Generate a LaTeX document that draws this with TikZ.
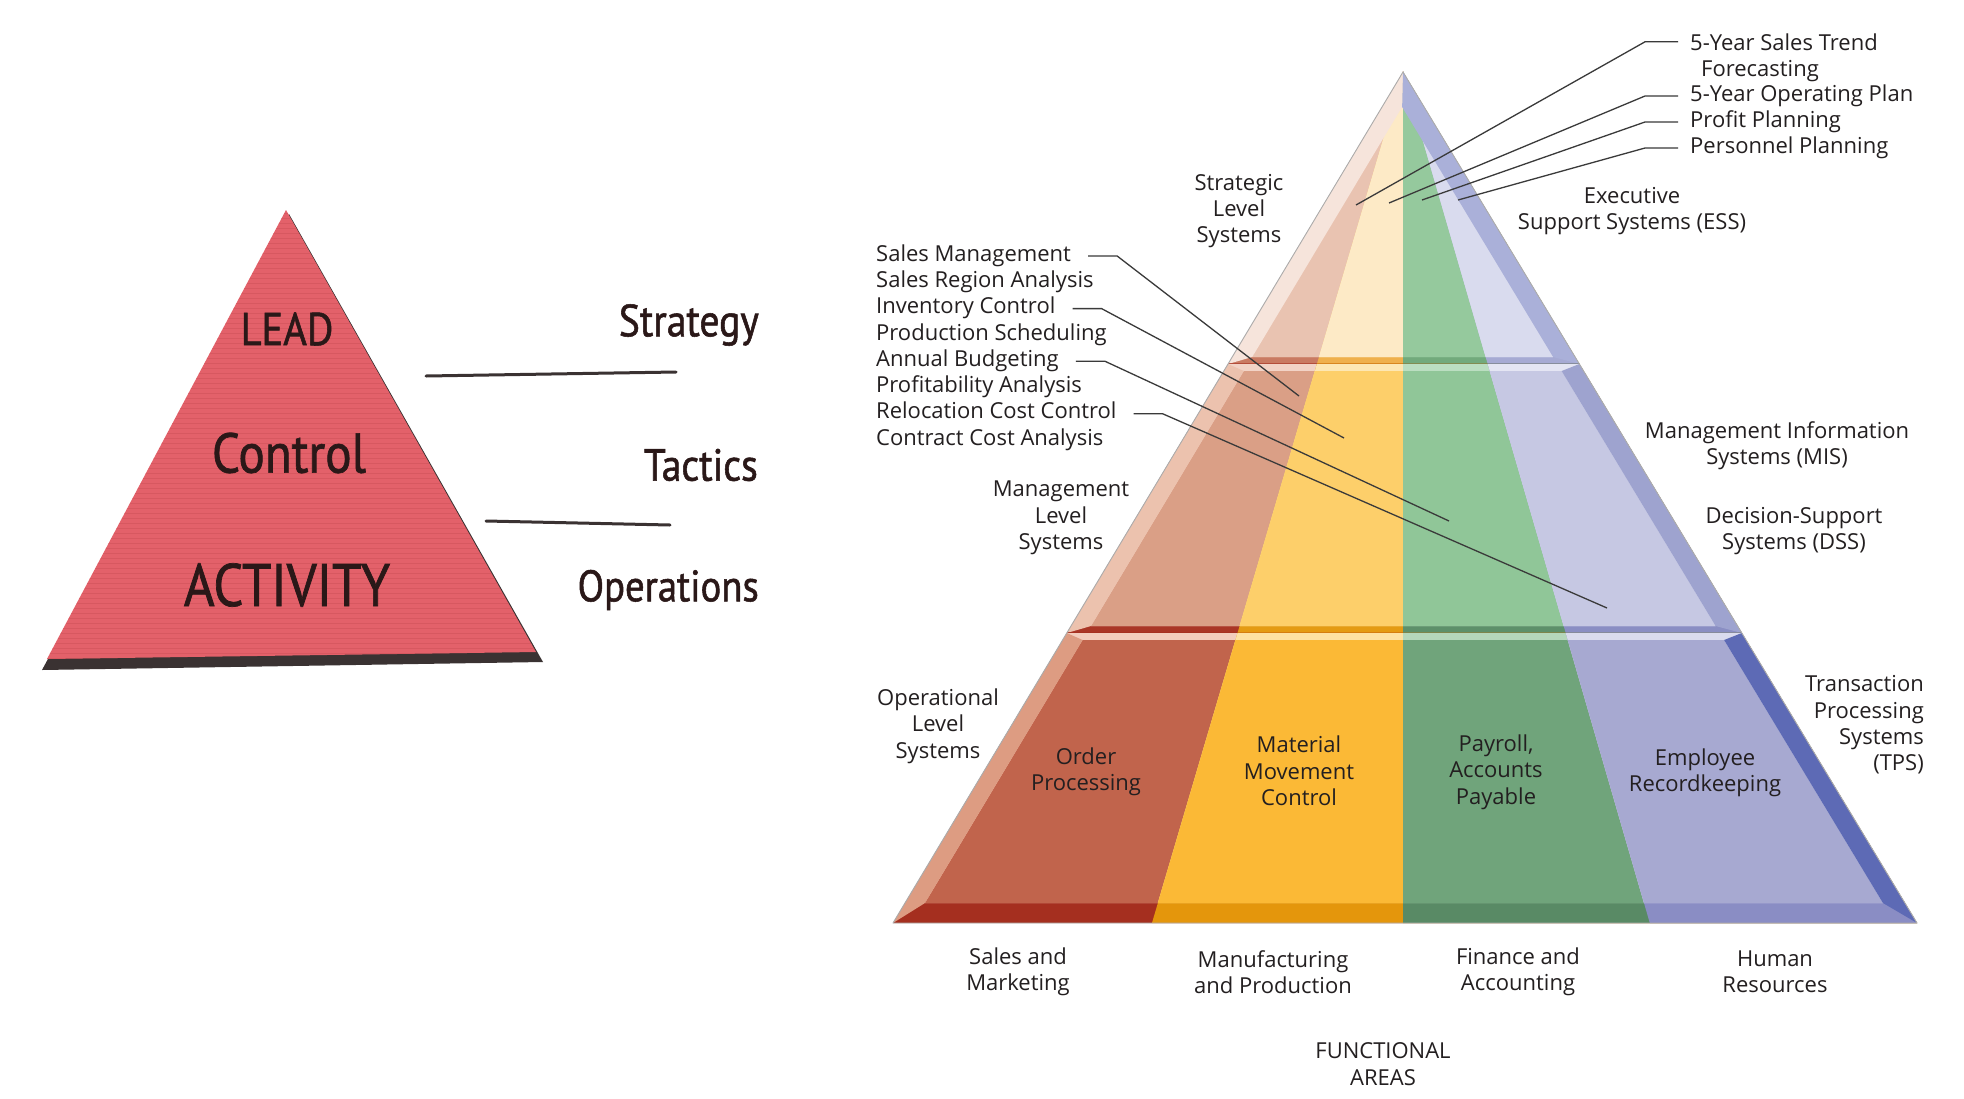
\documentclass[tikz,border=0pt]{standalone}
\usepackage{fontspec}
\setmainfont{Open Sans}
\newfontfamily\pyrfont[FakeStretch=0.88,FakeBold=1.2]{PT Sans}

% text and line colours
\definecolor{txt}{HTML}{231F20}
\definecolor{pyrtxt}{HTML}{2A1818}
\definecolor{ldr}{HTML}{3A3A3A}
\definecolor{redpyr}{HTML}{E3616A}
\definecolor{redtex}{HTML}{C94E55}
\definecolor{pyrshadow}{HTML}{3A3232}

% tier 1 (strategic)
\definecolor{R1t}{HTML}{E9C3B1}\definecolor{R1f}{HTML}{E9C3B1}\definecolor{R1b}{HTML}{C97A62}
\definecolor{Y1t}{HTML}{FDEAC6}\definecolor{Y1f}{HTML}{FDEAC6}\definecolor{Y1b}{HTML}{EFB04C}
\definecolor{G1t}{HTML}{95C99D}\definecolor{G1f}{HTML}{95C99D}\definecolor{G1b}{HTML}{72AA7C}
\definecolor{B1t}{HTML}{D9DBEE}\definecolor{B1f}{HTML}{D9DBEE}\definecolor{B1b}{HTML}{A6AAD3}
\definecolor{L1}{HTML}{F6E4DB}\definecolor{Q1}{HTML}{AAB0D9}
% tier 2 (management)
\definecolor{R2t}{HTML}{F2D3C6}\definecolor{R2f}{HTML}{DA9F86}\definecolor{R2b}{HTML}{AA3626}
\definecolor{Y2t}{HTML}{FDE7B3}\definecolor{Y2f}{HTML}{FDCF6A}\definecolor{Y2b}{HTML}{E49B13}
\definecolor{G2t}{HTML}{BBDEC1}\definecolor{G2f}{HTML}{90C698}\definecolor{G2b}{HTML}{5D906A}
\definecolor{B2t}{HTML}{E4E5F3}\definecolor{B2f}{HTML}{C6C8E3}\definecolor{B2b}{HTML}{8A8EC3}
\definecolor{L2}{HTML}{ECC2AE}\definecolor{Q2}{HTML}{9EA3CF}
% tier 3 (operational)
\definecolor{R3t}{HTML}{F3CDBD}\definecolor{R3f}{HTML}{C1644C}\definecolor{R3b}{HTML}{A52F1F}
\definecolor{Y3t}{HTML}{FEE2A3}\definecolor{Y3f}{HTML}{FBB936}\definecolor{Y3b}{HTML}{E4960C}
\definecolor{G3t}{HTML}{B5D7BB}\definecolor{G3f}{HTML}{70A47B}\definecolor{G3b}{HTML}{598A65}
\definecolor{B3t}{HTML}{DADBEE}\definecolor{B3f}{HTML}{A7A9D1}\definecolor{B3b}{HTML}{8A8DC4}
\definecolor{L3}{HTML}{DD9C82}\definecolor{Q3}{HTML}{5D6AB5}

% outer edges of the coloured pyramid
\newcommand\XL[1]{(1403-0.5993*((#1)-72))}
\newcommand\XR[1]{(1403+0.604*((#1)-72))}
% column regions (each drawn over the previous one)
\newcommand\clipR{}
\newcommand\clipY{\clip (1403,0) -- (1403,72) -- ({1403-0.295*928},1000) -- (2000,1000) -- (2000,0) -- cycle;}
\newcommand\clipG{\clip (1403,0) -- (1403,1000) -- (2000,1000) -- (2000,0) -- cycle;}
\newcommand\clipB{\clip (1403,0) -- (1403,72) -- ({1403+0.29*928},1000) -- (2000,1000) -- (2000,0) -- cycle;}

% one column of one tier: column, tier, outer top, inner top, inner bottom, outer bottom
\newcommand\tiercol[6]{%
  \begin{scope}
    \csname clip#1\endcsname
    \fill[#1#2b] ({\XL{#3-0.6}},{#3-0.6}) -- ({\XR{#3-0.6}},{#3-0.6}) -- ({\XR{#6}},{#6}) -- ({\XL{#6}},{#6}) -- cycle;
    \fill[#1#2t] ({\XL{#3}},{#3}) -- ({\XR{#3}},{#3}) -- ({\XR{#5}-22},{#5}) -- ({\XL{#5}+20},{#5}) -- cycle;
    \fill[#1#2f] ({\XL{#4}+20},{#4}) -- ({\XR{#4}-22},{#4}) -- ({\XR{#5}-22},{#5}) -- ({\XL{#5}+20},{#5}) -- cycle;
  \end{scope}}
% a whole tier with its side bevels
\newcommand\tier[5]{%
  \tiercol{R}{#1}{#2}{#3}{#4}{#5}%
  \tiercol{Y}{#1}{#2}{#3}{#4}{#5}%
  \tiercol{G}{#1}{#2}{#3}{#4}{#5}%
  \tiercol{B}{#1}{#2}{#3}{#4}{#5}%
  \fill[L#1] ({\XL{#2}},{#2}) -- ({\XL{#5}},{#5}) -- ({\XL{#4}+20},{#4}) -- ({\XL{#3}+20},{#3}) -- cycle;
  \fill[Q#1] ({\XR{#2}},{#2}) -- ({\XR{#5}},{#5}) -- ({\XR{#4}-22},{#4}) -- ({\XR{#3}-22},{#3}) -- cycle;
}

\begin{document}
\begin{tikzpicture}[x=1pt,y=-1pt,
  lbl/.style={font=\fontsize{22}{26.3}\selectfont, text=txt, inner sep=0pt,
              text height=21.6pt, text depth=5.3pt, anchor=west},
  blk/.style={font=\fontsize{22}{26.3}\selectfont, text=txt, inner sep=0pt, align=center, yshift=-3pt},
  pyrlbl/.style={font=\pyrfont\fontsize{#1}{#1}\selectfont, text=pyrtxt, inner sep=0pt},
  leader/.style={draw=ldr, line width=1.3pt},
  sepline/.style={draw=pyrshadow, line width=3pt, line cap=round}]

\useasboundingbox (0,0) rectangle (1964,1098);
\fill[white] (0,0) rectangle (1964,1098);

% ---------------- left pyramid ----------------
\fill[pyrshadow] (289,214) -- (42,670) -- (543,662) -- cycle;
\fill[redpyr] (286,210) -- (47,659) -- (536,652) -- cycle;
\begin{scope}
  \clip (286,210) -- (47,659) -- (536,652) -- cycle;
  \foreach \yy in {213,218,...,663}
    \draw[redtex, line width=1pt, opacity=0.45] (40,\yy) -- (545,\yy);
\end{scope}

\node[pyrlbl=46] (lead) at (287,329) {LEAD};
\node[pyrlbl=56] (control) at (289,453) {Control};
\node[pyrlbl=60] (activity) at (287,585) {ACTIVITY};

\node[pyrlbl=45, anchor=east] (strategy) at (759,325) {Strategy};
\node[pyrlbl=45, anchor=east] (tactics) at (758,465) {Tactics};
\node[pyrlbl=44, anchor=east] (operations) at (759,590) {Operations};

\coordinate (s1a) at (426,376); \coordinate (s1b) at (676,372);
\coordinate (s2a) at (486,521); \coordinate (s2b) at (670,525);
\draw[sepline] (s1a) -- (s1b);
\draw[sepline] (s2a) -- (s2b);

% ---------------- information systems pyramid ----------------
\tier{1}{72}{107}{357}{364}
\tier{2}{364}{371}{626}{633}
\tier{3}{633}{640}{903}{923}
\draw[gray!65, line width=0.9pt, line join=round] (1403,72) -- (893,923) -- (1917,923) -- cycle;

% level labels
\node[blk] (strat) at (1239,208) {Strategic\\Level\\Systems};
\node[blk] (mgmt) at (1061,515) {Management\\Level\\Systems};
\node[blk] (oper) at (938,723) {Operational\\Level\\Systems};

\node[blk] (ess) at (1632,208) {Executive\\Support Systems (ESS)};
\node[blk] (mis) at (1777,443) {Management Information\\Systems (MIS)};
\node[blk] (dss) at (1794,528) {Decision-Support\\Systems (DSS)};
\node[blk, align=right, anchor=east] (tps) at (1924,722) {Transaction\\Processing\\Systems\\(TPS)};

% operational systems inside the base
\node[blk] (order) at (1086,769) {Order\\Processing};
\node[blk] (material) at (1299,768) {Material\\Movement\\Control};
\node[blk] (payroll) at (1496,769) {Payroll,\\Accounts\\Payable};
\node[blk] (employee) at (1705,770) {Employee\\Recordkeeping};

% functional areas
\node[blk] (fa1) at (1018,969) {Sales and\\Marketing};
\node[blk] (fa2) at (1273,969) {Manufacturing\\and Production};
\node[blk] (fa3) at (1518,969) {Finance and\\Accounting};
\node[blk] (fa4) at (1775,969) {Human\\Resources};
\node[blk] (func) at (1383,1061) {FUNCTIONAL\\AREAS};

% management level applications
\node[lbl] (sm)  at (876,253)   {Sales Management};
\node[lbl] (sra) at (876,279.3) {Sales Region Analysis};
\node[lbl] (ic)  at (876,305.6) {Inventory Control};
\node[lbl] (ps)  at (876,331.9) {Production Scheduling};
\node[lbl] (ab)  at (876,358.2) {Annual Budgeting};
\node[lbl] (pa)  at (876,384.5) {Profitability Analysis};
\node[lbl] (rcc) at (876,410.8) {Relocation Cost Control};
\node[lbl] (cca) at (876,437.1) {Contract Cost Analysis};

\coordinate (smE)  at (1299,396);
\coordinate (icE)  at (1344,438);
\coordinate (abE)  at (1449,521);
\coordinate (rccE) at (1607,608);
\draw[leader] ([xshift=17pt,yshift=-3pt]sm.east)  -- ++(29,0) -- (smE);
\draw[leader] ([xshift=17pt,yshift=-3pt]ic.east)  -- ++(29,0) -- (icE);
\draw[leader] ([xshift=17pt,yshift=-3pt]ab.east)  -- ++(29,0) -- (abE);
\draw[leader] ([xshift=17pt,yshift=-3pt]rcc.east) -- ++(29,0) -- (rccE);

% strategic level applications
\node[blk, align=left, anchor=north west] (t1) at (1690,30.3) {5-Year Sales Trend\\\hspace*{11pt}Forecasting};
\node[lbl] (t2) at (1690,93)  {5-Year Operating Plan};
\node[lbl] (t3) at (1690,119) {Profit Planning};
\node[lbl] (t4) at (1690,145) {Personnel Planning};

\coordinate (t1E) at (1356,205);
\coordinate (t2E) at (1389,203);
\coordinate (t3E) at (1422,200);
\coordinate (t4E) at (1458,200);
\draw[leader] ([xshift=-12pt,yshift=-8.5pt]t1.north west) -- ++(-33,0) -- (t1E);
\draw[leader] ([xshift=-12pt,yshift=-3pt]t2.west) -- ++(-33,0) -- (t2E);
\draw[leader] ([xshift=-12pt,yshift=-3pt]t3.west) -- ++(-33,0) -- (t3E);
\draw[leader] ([xshift=-12pt,yshift=-3pt]t4.west) -- ++(-33,0) -- (t4E);

\end{tikzpicture}
\end{document}
